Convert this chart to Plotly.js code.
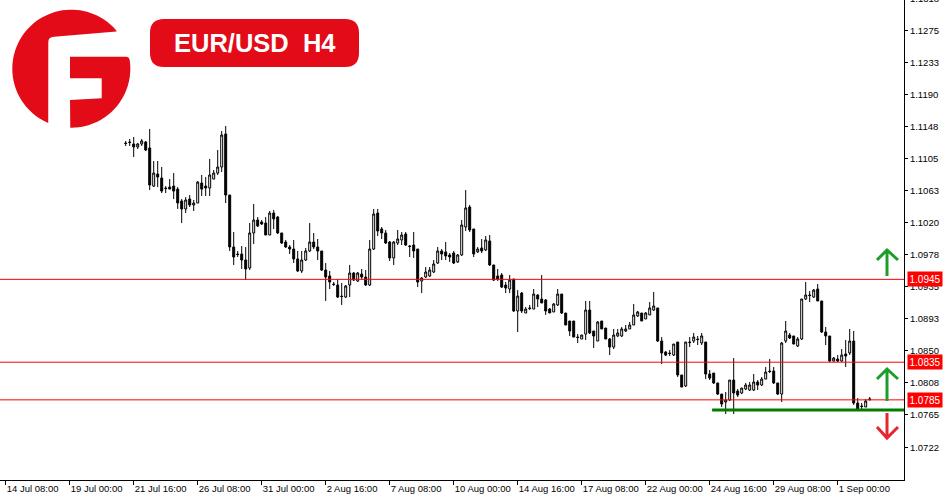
<!DOCTYPE html>
<html>
<head>
<meta charset="utf-8">
<script src="https://cdn.plot.ly/plotly-3.0.1.min.js"></script>
<style>html,body{margin:0;padding:0;background:#fff;}#chart{width:950px;height:500px;}</style>
</head>
<body>
<div id="chart"></div>
<script>
// ---- data (EUR/USD H4), first candle is bar #30 counted from 14 Jul 08:00 ----
const firstBar = 30;
const open = [
1.11261,1.11274,1.11248,1.11208,1.11248,1.11274,1.11195,1.10689,1.10849,1.10796,
1.10663,1.10676,1.10689,1.10649,1.10491,1.10385,1.10517,1.10438,1.10464,1.10729,
1.10689,1.10663,1.10782,1.10862,1.10942,1.11381,1.10570,1.09880,1.09787,1.09787,
1.09707,1.09601,1.10066,1.10238,1.10212,1.10198,1.10039,1.10331,1.10278,1.10066,
1.09946,1.09880,1.09853,1.09721,1.09561,1.09707,1.09827,1.09946,1.09880,1.09827,
1.09574,1.09495,1.09388,1.09375,1.09228,1.09215,1.09375,1.09534,1.09428,1.09521,
1.09481,1.09375,1.09853,1.10331,1.10119,1.10066,1.09946,1.09734,1.09933,1.09973,
1.10052,1.09893,1.09906,1.09853,1.09428,1.09481,1.09495,1.09548,1.09667,1.09827,
1.09814,1.09774,1.09800,1.09681,1.09774,1.10145,1.10411,1.10119,1.09814,1.09867,
1.09840,1.09960,1.09641,1.09495,1.09508,1.09375,1.09322,1.09455,1.09030,1.09268,
1.09003,1.09070,1.09056,1.09242,1.09189,1.09176,1.09056,1.09017,1.09110,1.09255,
1.09003,1.08897,1.08897,1.08684,1.08658,1.08724,1.09043,1.08764,1.08631,1.08897,
1.08804,1.08658,1.08551,1.08698,1.08698,1.08764,1.08791,1.08844,1.08964,1.09003,
1.08924,1.08977,1.09043,1.09070,1.08631,1.08485,1.08472,1.08445,1.08618,1.08180,
1.08034,1.08618,1.08631,1.08658,1.08605,1.08618,1.08193,1.08206,1.08074,1.07927,
1.07821,1.07848,1.08113,1.07967,1.07941,1.07994,1.07980,1.07980,1.08087,1.08047,
1.08126,1.08233,1.08233,1.08074,1.07927,1.08631,1.08711,1.08698,1.08565,1.08658,
1.09189,1.09242,1.09215,1.09322,1.09163,1.08751,1.08698,1.08365,1.08392,1.08365,
1.08459,1.08472,1.08631,1.07808,1.07768,1.07755,1.07848
];
const high = [
1.11288,1.11314,1.11341,1.11261,1.11314,1.11288,1.11447,1.11022,1.11022,1.10942,
1.10689,1.10782,1.10862,1.10676,1.10517,1.10543,1.10570,1.10504,1.10756,1.10836,
1.10809,1.11049,1.10902,1.11168,1.11420,1.11487,1.10570,1.10079,1.09827,1.09893,
1.09880,1.10198,1.10451,1.10278,1.10238,1.10278,1.10358,1.10371,1.10292,1.10066,
1.09973,1.09906,1.09973,1.09827,1.09827,1.09867,1.10198,1.10066,1.09986,1.09827,
1.09667,1.09561,1.09415,1.09455,1.09402,1.09375,1.09641,1.09548,1.09548,1.09588,
1.09574,1.09973,1.10385,1.10385,1.10145,1.10106,1.09960,1.09960,1.10106,1.10079,
1.10079,1.09906,1.10079,1.09853,1.09481,1.09614,1.09614,1.09707,1.09880,1.09853,
1.09946,1.09800,1.09827,1.09787,1.10238,1.10636,1.10438,1.10119,1.09880,1.09986,
1.10026,1.10039,1.09641,1.09588,1.09534,1.09415,1.09508,1.09455,1.09308,1.09282,
1.09083,1.09110,1.09322,1.09255,1.09508,1.09189,1.09070,1.09136,1.09322,1.09255,
1.09003,1.08897,1.08897,1.08724,1.08711,1.09163,1.09163,1.08764,1.08897,1.08897,
1.08804,1.08671,1.08791,1.08791,1.08817,1.08844,1.08884,1.09123,1.09030,1.09003,
1.09017,1.09149,1.09282,1.09070,1.08684,1.08498,1.08512,1.08591,1.08618,1.08180,
1.08618,1.08684,1.08738,1.08698,1.08738,1.08618,1.08246,1.08206,1.08074,1.07927,
1.07954,1.08113,1.08405,1.07994,1.08007,1.08074,1.08087,1.08193,1.08113,1.08153,
1.08286,1.08392,1.08286,1.08074,1.08618,1.08897,1.08738,1.08698,1.08684,1.09189,
1.09415,1.09295,1.09322,1.09388,1.09163,1.08817,1.08698,1.08419,1.08445,1.08525,
1.08644,1.08791,1.08764,1.07874,1.07808,1.07861,1.07888
];
const low = [
1.11221,1.11221,1.11075,1.11181,1.11221,1.11155,1.10636,1.10676,1.10676,1.10596,
1.10596,1.10649,1.10517,1.10385,1.10198,1.10331,1.10411,1.10358,1.10464,1.10557,
1.10557,1.10557,1.10782,1.10836,1.10876,1.10464,1.09827,1.09641,1.09747,1.09588,
1.09441,1.09574,1.09920,1.10145,1.10172,1.10039,1.10039,1.10119,1.10052,1.09920,
1.09867,1.09787,1.09667,1.09548,1.09534,1.09694,1.09814,1.09853,1.09707,1.09561,
1.09163,1.09322,1.09362,1.09202,1.09110,1.09202,1.09215,1.09428,1.09415,1.09455,
1.09362,1.09362,1.09840,1.10026,1.09986,1.09920,1.09694,1.09641,1.09906,1.09906,
1.09893,1.09747,1.09734,1.09348,1.09268,1.09468,1.09481,1.09534,1.09654,1.09707,
1.09707,1.09681,1.09654,1.09667,1.09760,1.10092,1.10079,1.09747,1.09800,1.09800,
1.09827,1.09628,1.09428,1.09428,1.09335,1.09268,1.09268,1.09017,1.08751,1.09003,
1.09003,1.09043,1.09056,1.09083,1.09136,1.08977,1.09003,1.09017,1.09096,1.08990,
1.08844,1.08698,1.08684,1.08605,1.08658,1.08644,1.08724,1.08538,1.08631,1.08791,
1.08658,1.08445,1.08525,1.08684,1.08684,1.08751,1.08791,1.08844,1.08950,1.08897,
1.08924,1.08977,1.09030,1.08618,1.08325,1.08432,1.08432,1.08432,1.08153,1.08020,
1.08020,1.08551,1.08605,1.08578,1.08578,1.08126,1.08113,1.08060,1.07914,1.07755,
1.07662,1.07835,1.07662,1.07888,1.07927,1.07980,1.07967,1.07967,1.07980,1.08034,
1.08126,1.08206,1.08060,1.07914,1.07821,1.08605,1.08658,1.08591,1.08551,1.08644,
1.09176,1.09149,1.09202,1.09163,1.08738,1.08578,1.08352,1.08352,1.08352,1.08352,
1.08286,1.08445,1.07782,1.07715,1.07715,1.07755,1.07848
];
const close = [
1.11254,1.11268,1.11208,1.11248,1.11288,1.11168,1.10703,1.10862,1.10809,1.10623,
1.10656,1.10649,1.10623,1.10464,1.10385,1.10504,1.10438,1.10464,1.10742,1.10649,
1.10663,1.10836,1.10862,1.10942,1.11367,1.10570,1.09880,1.09747,1.09780,1.09707,
1.09588,1.10066,1.10238,1.10159,1.10185,1.10039,1.10331,1.10252,1.10066,1.09933,
1.09880,1.09853,1.09721,1.09561,1.09707,1.09827,1.09946,1.09880,1.09827,1.09574,
1.09481,1.09415,1.09382,1.09215,1.09222,1.09362,1.09534,1.09441,1.09534,1.09481,
1.09375,1.09853,1.10318,1.10092,1.10066,1.09933,1.09734,1.09946,1.09986,1.10039,
1.09906,1.09887,1.09827,1.09415,1.09468,1.09548,1.09574,1.09654,1.09827,1.09787,
1.09760,1.09747,1.09667,1.09774,1.10172,1.10398,1.10106,1.09787,1.09853,1.09827,
1.09973,1.09641,1.09441,1.09455,1.09348,1.09335,1.09441,1.09030,1.09228,1.09030,
1.09056,1.09063,1.09255,1.09189,1.09136,1.09030,1.09003,1.09123,1.09255,1.09003,
1.08844,1.08764,1.08684,1.08678,1.08711,1.09043,1.08738,1.08698,1.08884,1.08791,
1.08658,1.08551,1.08711,1.08738,1.08791,1.08791,1.08844,1.08977,1.09017,1.08897,
1.09003,1.09070,1.09096,1.08631,1.08472,1.08445,1.08465,1.08591,1.08180,1.08020,
1.08618,1.08611,1.08684,1.08651,1.08698,1.08193,1.08140,1.08074,1.07927,1.07795,
1.07848,1.08113,1.07941,1.07914,1.08007,1.08047,1.08047,1.08087,1.08047,1.08126,
1.08219,1.08226,1.08074,1.07927,1.08605,1.08764,1.08671,1.08591,1.08658,1.09189,
1.09242,1.09235,1.09308,1.09163,1.08751,1.08698,1.08365,1.08405,1.08365,1.08445,
1.08432,1.08631,1.07808,1.07715,1.07762,1.07835,1.07861
];
// time-axis labels (every 16 H4 bars from bar 0 = 14 Jul 08:00)
const timeLabels = ["14 Jul 08:00","19 Jul 00:00","21 Jul 16:00","26 Jul 08:00","31 Jul 00:00",
  "2 Aug 16:00","7 Aug 08:00","10 Aug 00:00","14 Aug 16:00","17 Aug 08:00","22 Aug 00:00",
  "24 Aug 16:00","29 Aug 08:00","1 Sep 00:00"];
const timeLabelBars = [0,16,32,48,64,80,96,112,128,144,160,176,192,208];
// price-axis labels
const priceLabels = ["1.0722","1.0765","1.0808","1.0850","1.0893","1.0935","1.0978","1.1020",
  "1.1063","1.1105","1.1148","1.1190","1.1233","1.1275"];
const topPriceLabel = "1.1318";
// horizontal levels
const levels = [1.0945, 1.0835, 1.0785];
const supportLevel = 1.07715;
const supportFromBar = 176.6;
const symbolTitle = "EUR/USD\u00a0 H4";

// ---- drawing ----
const W = 904, H = 480; // plot area in px
const px = (x) => x / W, py = (y) => 1 - y / H;
const P = (x, y) => px(x) + ',' + py(y);
const FONT = 'Liberation Sans, Arial, sans-serif';

const bars = open.map((_, k) => firstBar + k);

const trace = {
  type: 'candlestick', x: bars, open: open, high: high, low: low, close: close,
  increasing: {line: {color: '#000', width: 1}, fillcolor: '#ffffff'},
  decreasing: {line: {color: '#000', width: 1}, fillcolor: '#000000'},
  whiskerwidth: 0, hoverinfo: 'skip', showlegend: false
};

const shapes = [];
levels.forEach(v => shapes.push({type: 'line', xref: 'paper', x0: 0, x1: 1, yref: 'y', y0: v, y1: v,
  line: {color: '#ff0000', width: 1}}));
shapes.push({type: 'line', xref: 'x', x0: supportFromBar, x1: 224.6, yref: 'y', y0: supportLevel, y1: supportLevel,
  line: {color: '#007c00', width: 3}});
// arrows
const green = '#1f9d2b', red = '#e5262e';
shapes.push({type: 'path', xref: 'paper', yref: 'paper', line: {color: green, width: 3},
  path: `M${P(887,276)}L${P(887,250)}M${P(877,260)}L${P(887,250)}L${P(898,260)}`});
shapes.push({type: 'path', xref: 'paper', yref: 'paper', line: {color: green, width: 3},
  path: `M${P(887,401)}L${P(887,369)}M${P(877,379)}L${P(887,369)}L${P(898,379)}`});
shapes.push({type: 'path', xref: 'paper', yref: 'paper', line: {color: red, width: 3},
  path: `M${P(887,413)}L${P(887,438)}M${P(877,427)}L${P(887,438)}L${P(898,427)}`});

// logo (red "G" ring + "F" block)
const brand = '#e30b17';
const cx = 71.3, cy = 68.7, R = 59;
function arcPts(a0, a1, n) {
  const pts = [];
  for (let k = 0; k <= n; k++) {
    const a = (a0 + (a1 - a0) * k / n) * Math.PI / 180;
    pts.push('L' + P(cx + R * Math.cos(a), cy - R * Math.sin(a)));
  }
  return pts.join('');
}
shapes.push({type: 'path', xref: 'paper', yref: 'paper', fillcolor: brand, line: {width: 0},
  path: `M${P(48.3,42)}Q${P(48.3,37)} ${P(54,36.8)}L${P(116.5,31.5)}` + arcPts(40, 247, 60) + `L${P(48.3,42)}Z`});
shapes.push({type: 'path', xref: 'paper', yref: 'paper', fillcolor: brand, line: {width: 0},
  path: `M${P(70,56.7)}L${P(126,56.7)}Q${P(129.5,57)} ${P(129.7,60.5)}` + arcPts(8, -91, 50) +
        `L${P(70,100)}L${P(101.7,98.3)}L${P(101.7,78.3)}L${P(70,78.3)}Z`});

// title pill
const x0 = 150, x1 = 359, y0 = 19, y1 = 67, r = 14;
shapes.push({type: 'path', xref: 'paper', yref: 'paper', fillcolor: brand, line: {width: 0},
  path: `M${P(x0+r,y0)}L${P(x1-r,y0)}Q${P(x1,y0)} ${P(x1,y0+r)}L${P(x1,y1-r)}Q${P(x1,y1)} ${P(x1-r,y1)}` +
        `L${P(x0+r,y1)}Q${P(x0,y1)} ${P(x0,y1-r)}L${P(x0,y0+r)}Q${P(x0,y0)} ${P(x0+r,y0)}Z`});

const annotations = [];
annotations.push({xref: 'paper', yref: 'paper', x: px((x0+x1)/2 + 1), y: py((y0+y1)/2), text: '<b>' + symbolTitle + '</b>',
  showarrow: false, font: {family: FONT, size: 25.5, color: '#fff'}, xanchor: 'center', yanchor: 'middle'});
levels.forEach(v => annotations.push({xref: 'paper', yref: 'y', x: 1, y: v, xanchor: 'left', xshift: 3, yanchor: 'middle',
  text: v.toFixed(4), showarrow: false, bgcolor: '#ff0000', borderpad: 1.5,
  font: {family: FONT, size: 10, color: '#fff'}}));
annotations.push({xref: 'paper', yref: 'paper', x: 1, y: 1 + 1.5 / H, xanchor: 'left', xshift: 4, yanchor: 'middle',
  text: topPriceLabel, showarrow: false, font: {family: FONT, size: 9.5, color: '#000'}});

const layout = {
  width: 950, height: 500,
  margin: {l: 0, r: 46, t: 0, b: 20, pad: 0},
  paper_bgcolor: '#fff', plot_bgcolor: '#fff',
  font: {family: FONT, size: 9.5, color: '#000'},
  showlegend: false,
  xaxis: {type: 'linear', range: [-1.425, 224.575], rangeslider: {visible: false},
    showgrid: false, zeroline: false, showline: true, linecolor: '#000', linewidth: 1,
    tickmode: 'array', tickvals: timeLabelBars, ticktext: timeLabels, tickangle: 0,
    ticks: 'outside', ticklen: 4, tickcolor: '#000', tickwidth: 1,
    ticklabelposition: 'outside right', automargin: false, fixedrange: true},
  yaxis: {side: 'right', range: [1.067856, 1.1316], showgrid: false, zeroline: false,
    showline: true, linecolor: '#000', linewidth: 1,
    tickmode: 'array', tickvals: priceLabels.map(Number), ticktext: priceLabels,
    ticks: 'outside', ticklen: 3, tickcolor: '#000', automargin: false, fixedrange: true},
  shapes: shapes, annotations: annotations
};
Plotly.newPlot('chart', [trace], layout, {staticPlot: true, displayModeBar: false});
</script>
</body>
</html>
